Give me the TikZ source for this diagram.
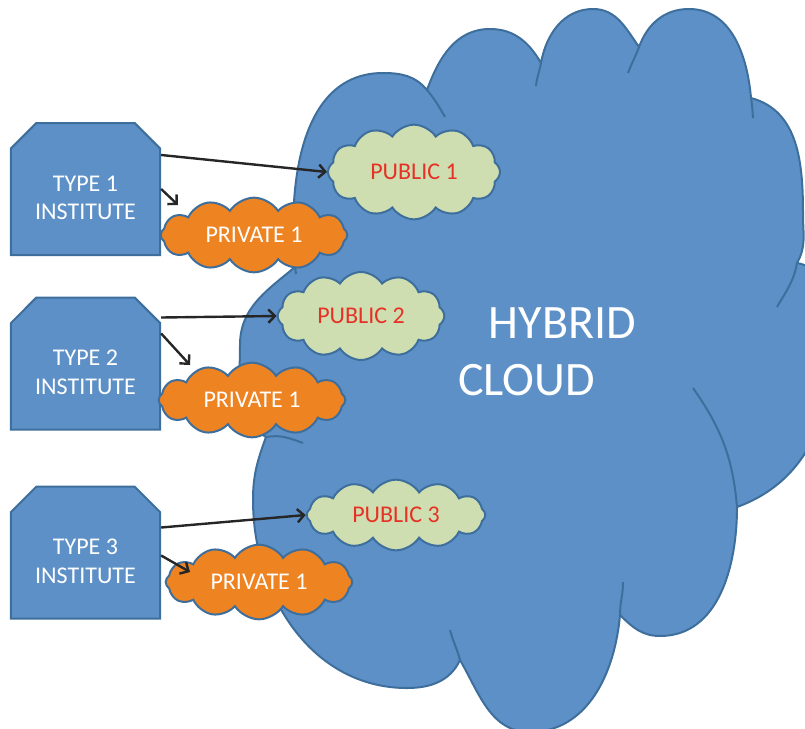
\documentclass[tikz,border=0pt]{standalone}
\usepackage{fontspec}
\setmainfont{Carlito}
\usetikzlibrary{%
   arrows.meta,%
   shapes.misc,%
   shapes.symbols,%
   calc%
}
\definecolor{fillblue}{RGB}{92,144,199}
\definecolor{edgeblue}{RGB}{62,111,156}
\definecolor{privorange}{RGB}{238,131,34}
\definecolor{pubgreen}{RGB}{207,222,176}
\definecolor{pubred}{RGB}{230,50,38}
\newcommand{\instgap}{\rule{0pt}{25pt}}

\begin{document}
\begin{tikzpicture}[x=0.75pt,y=-0.75pt,
	institute/.style={
	chamfered rectangle,
	chamfered rectangle corners={north west,north east},
	chamfered rectangle xsep=16pt,
	minimum width=112pt,minimum height=99pt,inner sep=0pt,
	line width=1.5pt,draw=edgeblue,fill=fillblue,
	text=white,align=center,
	font=\fontsize{18}{21.5}\selectfont
	},bigcloud/.style={
	line width=1.5pt,draw=edgeblue,fill=fillblue,line join=round
	},cloudedge/.style={
	line width=1.5pt,draw=edgeblue
	},pubcloud/.style={
	cloud,cloud puffs=12,cloud puff arc=115,cloud ignores aspect,inner sep=0pt,
	line width=1.5pt,draw=edgeblue,fill=pubgreen,
	text=pubred,font=\fontsize{18}{21.5}\selectfont
	},privcloud/.style={
	cloud,cloud puffs=12,cloud puff arc=115,cloud ignores aspect,inner sep=0pt,
	minimum width=140pt,minimum height=56pt,
	line width=1.5pt,draw=edgeblue,fill=privorange,
	text=white,font=\fontsize{18}{21.5}\selectfont
	},link/.style={
	-{Straight Barb[length=5pt,width=10pt]},line width=1.8pt,black!85
	}
]
\useasboundingbox (0,0) rectangle (805,728);
\clip (0,0) rectangle (805,728);

% big cloud (x,y in pixels)
\path[bigcloud] (295,267)
	to[out=95,in=180] (383,73) to[out=0,in=130] (427,90)
	to[out=70,in=180] (490,29) to[out=0,in=120] (541,63)
	to[out=80,in=180] (593,9) to[out=0,in=125] (639,47)
	to[out=70,in=180] (689,9) to[out=0,in=95] (751,98)
	to[out=-15,in=90] (803,215) to[out=-90,in=60] (797,263)
	to[out=-10,in=90] (832,345) to[out=-90,in=20] (737,507)
	to[out=-90,in=0] (660,636) to[out=180,in=-45] (620,615)
	to[out=-95,in=0] (530,732) to[out=180,in=-60] (460,660)
	to[out=-115,in=0] (407,688) to[out=180,in=-90] (253,500)
	to[out=90,in=-110] (266,437) to[out=150,in=-90] (240,345)
	to[out=90,in=-140] (295,267) -- cycle;
\draw[cloudedge] (427,90) to[out=-50,in=120] (445,117);
\draw[cloudedge] (541,63) to[out=-100,in=85] (536,86);
\draw[cloudedge] (639,47) to[out=-110,in=70] (628,73);
\draw[cloudedge] (751,98) to[out=-80,in=95] (753,118);
\draw[cloudedge] (797,263) to[out=-100,in=60] (777,307);
\draw[cloudedge] (737,507) to[out=95,in=-55] (693,388);
\draw[cloudedge] (620,615) to[out=90,in=-90] (623,582);
\draw[cloudedge] (460,660) to[out=105,in=-75] (450,630);
\draw[cloudedge] (266,437) to[out=10,in=160] (303,443);
\draw[cloudedge] (295,267) -- (296,274);
\node (hybrid) [text=white,align=left,font=\fontsize{36}{43}\selectfont] at (547,352) {\hspace*{23pt}HYBRID\\CLOUD};

% institutes
\node (inst1) [institute] at (85.5,189) {\instgap TYPE 1\\INSTITUTE};
\node (inst2) [institute] at (85.5,363.5) {\instgap TYPE 2\\INSTITUTE};
\node (inst3) [institute] at (85.5,552.5) {\instgap TYPE 3\\INSTITUTE};

% public clouds
\node (pub1) [pubcloud,minimum width=129pt,minimum height=71pt] at (414,172) {PUBLIC 1};
\node (pub2) [pubcloud,minimum width=125pt,minimum height=66pt] at (361,316) {PUBLIC 2};
\node (pub3) [pubcloud,minimum width=134pt,minimum height=53pt] at (396,515) {PUBLIC 3};

% private clouds
\node (priv1) [privcloud] at (254,235) {PRIVATE 1};
\node (priv2) [privcloud] at (252,400) {PRIVATE 1};
\node (priv3) [privcloud] at (259,582) {PRIVATE 1};

% links
\draw[link] ($(inst1.east)+(0,-34)$) -- (pub1.west);
\draw[link] (inst1.east) -- ($(priv1.center)+(-76,-30)$);
\draw[link] ($(inst2.east)+(0,-46)$) -- (pub2.west);
\draw[link] ($(inst2.east)+(0,-30)$) -- ($(priv2.center)+(-62,-35)$);
\draw[link] ($(inst3.east)+(0,-25)$) -- (pub3.west);
\draw[link] ($(inst3.east)+(0,3)$) -- ($(priv3.center)+(-69,-10)$);

\end{tikzpicture}
\end{document}
